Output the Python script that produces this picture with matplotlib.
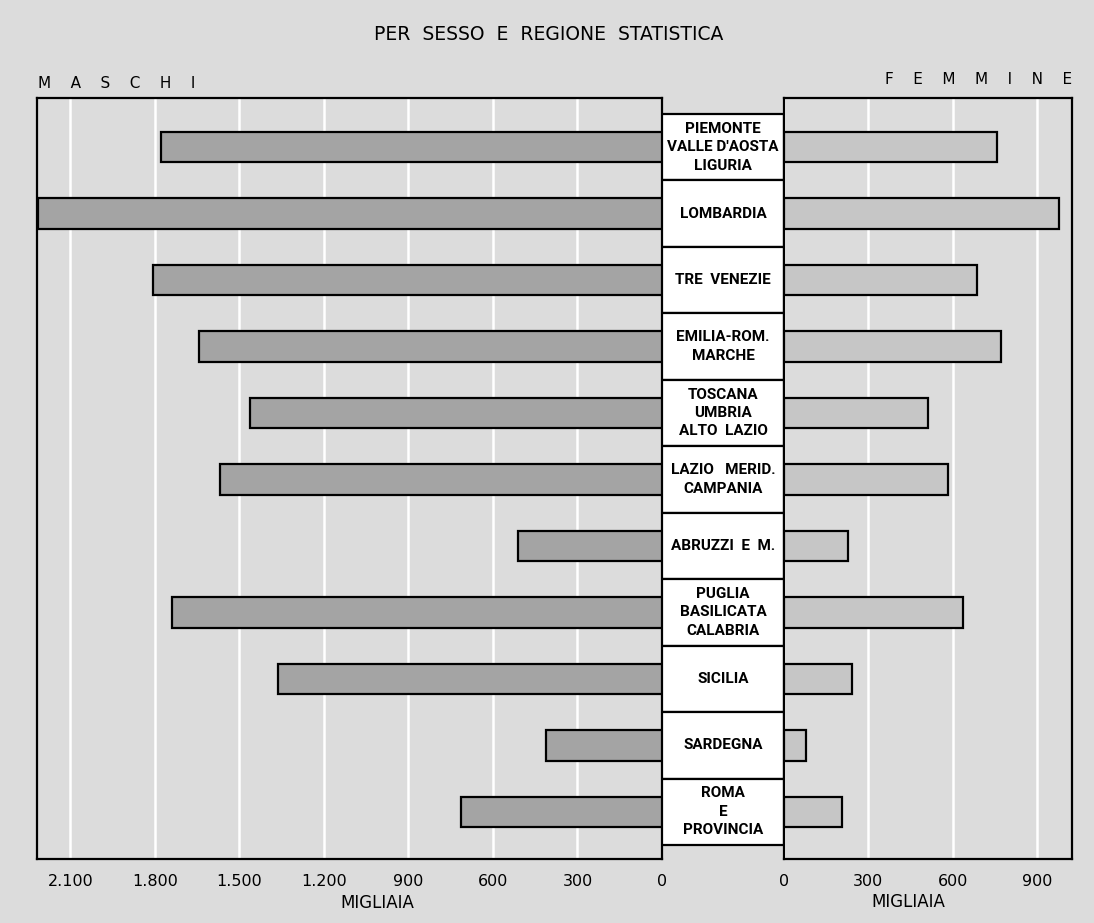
import numpy as np
import matplotlib.pyplot as plt
from matplotlib.transforms import blended_transform_factory

# regioni statistiche, dall'alto in basso
regioni = [
    "PIEMONTE\nVALLE D'AOSTA\nLIGURIA",
    "LOMBARDIA",
    "TRE  VENEZIE",
    "EMILIA-ROM.\nMARCHE",
    "TOSCANA\nUMBRIA\nALTO  LAZIO",
    "LAZIO   MERID.\nCAMPANIA",
    "ABRUZZI  E  M.",
    "PUGLIA\nBASILICATA\nCALABRIA",
    "SICILIA",
    "SARDEGNA",
    "ROMA\nE\nPROVINCIA",
]

# migliaia
maschi = [1777, 2216, 1805, 1642, 1461, 1567, 511, 1738, 1362, 411, 713]
femmine = [758, 979, 687, 772, 512, 584, 228, 637, 242, 78, 206]

tick_m = [0, 300, 600, 900, 1200, 1500, 1800, 2100]
tick_m_lab = ["0", "300", "600", "900", "1.200", "1.500", "1.800", "2.100"]
tick_f = [0, 300, 600, 900]
tick_f_lab = ["0", "300", "600", "900"]

bg = '#dcdcdc'
col_m = '#a4a4a4'
col_f = '#c6c6c6'
narrow = ['Roboto', 'DejaVu Sans']

W, H = 1094, 923
fig = plt.figure(figsize=(W / 100, H / 100), dpi=100)
fig.patch.set_facecolor(bg)

def px_axes(x0, x1, y0, y1):
    # pixel box (top-origin) -> figure fraction axes
    return fig.add_axes([x0 / W, 1 - y1 / H, (x1 - x0) / W, (y1 - y0) / H])

ax_m = px_axes(37, 662, 98, 859)
ax_c = px_axes(662, 784, 98, 859)
ax_f = px_axes(784, 1072, 98, 859)

rows = np.arange(len(regioni))
ylim = (10.71, -0.74)

for ax, vals, col, lim, ticks, labs in [
        (ax_m, maschi, col_m, (2218, 0), tick_m, tick_m_lab),
        (ax_f, femmine, col_f, (0, 1025), tick_f, tick_f_lab)]:
    ax.set_facecolor(bg)
    ax.barh(rows, vals, height=0.46, color=col, edgecolor='black',
            linewidth=1.6, zorder=3)
    ax.set_xlim(*lim)
    ax.set_ylim(*ylim)
    ax.set_xticks(ticks)
    ax.set_xticklabels(labs)
    ax.set_yticks([])
    ax.tick_params(axis='x', length=0, pad=11, labelsize=11.5)
    ax.grid(axis='x', color='white', linewidth=1.8, zorder=1)
    for s in ax.spines.values():
        s.set_linewidth(1.6)

# colonna centrale con i nomi delle regioni
ax_c.barh(rows, 1, left=0, height=1, color='white', edgecolor='black',
          linewidth=1.6, zorder=3)
ax_c.set_xlim(0, 1)
ax_c.set_ylim(*ylim)
ax_c.axis('off')
for r, name in zip(rows, regioni):
    ax_c.text(0.5, r, name, ha='center', va='center', fontsize=11,
              family=narrow, fontweight='bold', linespacing=1.4, zorder=4)

# scritte
fig.text(549 / W, 1 - 34 / H, "PER  SESSO  E  REGIONE  STATISTICA",
         ha='center', va='center', fontsize=13.5)
fig.text(38 / W, 1 - 83 / H, "M    A    S    C    H    I",
         ha='left', va='center', fontsize=11)
fig.text(1072 / W, 1 - 79 / H, "F    E    M    M    I    N    E",
         ha='right', va='center', fontsize=11)

tr_m = blended_transform_factory(ax_m.transData, fig.transFigure)
tr_f = blended_transform_factory(ax_f.transData, fig.transFigure)
ax_m.text(1010, 1 - 903 / H, "MIGLIAIA", transform=tr_m, ha='center',
          va='center', fontsize=12)
ax_f.text(441, 1 - 902 / H, "MIGLIAIA", transform=tr_f, ha='center',
          va='center', fontsize=12)

fig.savefig('out.png', dpi=100, facecolor=bg)
